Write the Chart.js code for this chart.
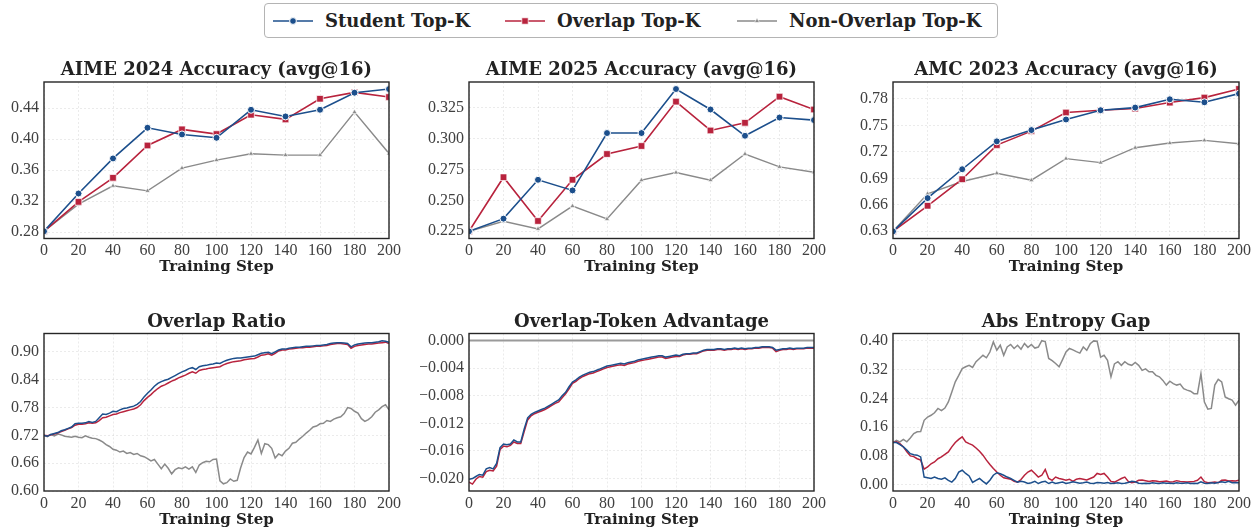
<!DOCTYPE html>
<html>
<head>
<meta charset="utf-8">
<title>Top-K distillation metrics</title>
<script src="https://cdn.jsdelivr.net/npm/chart.js@4.4.1/dist/chart.umd.min.js"></script>
<style>
  html, body { margin: 0; padding: 0; background: #fff; }
  body { width: 1256px; height: 529px; position: relative; overflow: hidden; }
  canvas.panel { position: absolute; }
  #legend {
    position: absolute; left: 264px; top: 3px; width: 732px; height: 33px;
    border: 1px solid #b4b4b4; border-radius: 4px; background: #fff;
    font-family: "DejaVu Serif", serif; font-weight: bold; font-size: 18px; color: #222;
  }
  #legend .item { position: absolute; top: 0; height: 33px; display: flex; align-items: center; white-space: nowrap; }
  #legend svg { margin-right: 12px; }
</style>
</head>
<body>
<div id="legend"></div>
<script>
// ---- series names & colours ----
const SERIES_NAMES = ['Student Top-K', 'Overlap Top-K', 'Non-Overlap Top-K'];
const SERIES_COLORS = ['#1c4f8c', '#b8233d', '#8a8a8a'];

// ---- evaluation checkpoints (top row) ----
const EVAL_STEPS = [0, 20, 40, 60, 80, 100, 120, 140, 160, 180, 200];

const AIME24_STUDENT    = [0.2812, 0.3299, 0.3751, 0.4146, 0.4060, 0.4017, 0.4378, 0.4292, 0.4378, 0.4598, 0.4645];
const AIME24_OVERLAP    = [0.2812, 0.3191, 0.3501, 0.3918, 0.4125, 0.4065, 0.4314, 0.4254, 0.4520, 0.4602, 0.4542];
const AIME24_NONOVERLAP = [0.2812, 0.3161, 0.3398, 0.3333, 0.3626, 0.3729, 0.3811, 0.3794, 0.3794, 0.4348, 0.3815];

const AIME25_STUDENT    = [0.2249, 0.2352, 0.2667, 0.2581, 0.3046, 0.3046, 0.3403, 0.3237, 0.3024, 0.3172, 0.3151];
const AIME25_OVERLAP    = [0.2249, 0.2688, 0.2333, 0.2667, 0.2876, 0.2941, 0.3301, 0.3067, 0.3129, 0.3341, 0.3237];
const AIME25_NONOVERLAP = [0.2249, 0.2331, 0.2269, 0.2454, 0.2349, 0.2664, 0.2726, 0.2664, 0.2876, 0.2772, 0.2728];

const AMC23_STUDENT     = [0.6299, 0.6676, 0.7003, 0.7319, 0.7447, 0.7567, 0.7672, 0.7702, 0.7796, 0.7762, 0.7860];
const AMC23_OVERLAP     = [0.6299, 0.6589, 0.6890, 0.7277, 0.7435, 0.7646, 0.7672, 0.7691, 0.7759, 0.7815, 0.7913];
const AMC23_NONOVERLAP  = [0.6299, 0.6725, 0.6864, 0.6958, 0.6879, 0.7123, 0.7078, 0.7247, 0.7300, 0.7330, 0.7292];

// ---- per-step training curves (bottom row), logged every 2 steps ----
const TRAIN_STEPS = Array.from({ length: 101 }, (_, i) => i * 2);

const RATIO_STUDENT = [
  0.720, 0.718, 0.722, 0.724, 0.726, 0.730, 0.732, 0.735, 0.738, 0.745,
  0.746, 0.746, 0.747, 0.750, 0.748, 0.750, 0.758, 0.766, 0.765, 0.768,
  0.772, 0.771, 0.775, 0.778, 0.779, 0.781, 0.783, 0.787, 0.793, 0.803,
  0.811, 0.818, 0.826, 0.832, 0.836, 0.839, 0.841, 0.845, 0.849, 0.853,
  0.857, 0.860, 0.864, 0.866, 0.862, 0.868, 0.870, 0.871, 0.873, 0.874,
  0.876, 0.875, 0.879, 0.882, 0.884, 0.886, 0.887, 0.887, 0.888, 0.889,
  0.890, 0.891, 0.894, 0.897, 0.898, 0.899, 0.896, 0.900, 0.904, 0.906,
  0.906, 0.908, 0.909, 0.910, 0.910, 0.911, 0.912, 0.912, 0.913, 0.914,
  0.914, 0.915, 0.916, 0.918, 0.919, 0.920, 0.920, 0.919, 0.918, 0.911,
  0.915, 0.917, 0.918, 0.919, 0.920, 0.920, 0.921, 0.922, 0.924, 0.923,
  0.921
];
const RATIO_OVERLAP = [
  0.720, 0.719, 0.721, 0.723, 0.725, 0.728, 0.731, 0.734, 0.737, 0.742,
  0.744, 0.744, 0.745, 0.747, 0.746, 0.747, 0.752, 0.758, 0.759, 0.762,
  0.765, 0.766, 0.769, 0.771, 0.773, 0.775, 0.777, 0.780, 0.786, 0.795,
  0.802, 0.808, 0.815, 0.821, 0.826, 0.829, 0.833, 0.837, 0.840, 0.844,
  0.847, 0.850, 0.854, 0.857, 0.854, 0.860, 0.862, 0.863, 0.865, 0.866,
  0.867, 0.868, 0.872, 0.875, 0.877, 0.879, 0.880, 0.881, 0.883, 0.884,
  0.885, 0.886, 0.889, 0.893, 0.894, 0.896, 0.893, 0.897, 0.902, 0.904,
  0.904, 0.906, 0.907, 0.908, 0.909, 0.909, 0.910, 0.910, 0.911, 0.912,
  0.912, 0.913, 0.914, 0.916, 0.917, 0.918, 0.918, 0.917, 0.916, 0.908,
  0.912, 0.914, 0.915, 0.916, 0.917, 0.917, 0.918, 0.919, 0.920, 0.921,
  0.918
];
const RATIO_NONOVERLAP = [
  0.720, 0.717, 0.722, 0.719, 0.723, 0.721, 0.718, 0.717, 0.716, 0.718,
  0.716, 0.715, 0.719, 0.716, 0.714, 0.713, 0.710, 0.706, 0.700, 0.696,
  0.690, 0.688, 0.684, 0.686, 0.681, 0.683, 0.679, 0.681, 0.676, 0.674,
  0.670, 0.665, 0.668, 0.658, 0.648, 0.658, 0.649, 0.637, 0.646, 0.650,
  0.648, 0.652, 0.647, 0.652, 0.640, 0.656, 0.661, 0.664, 0.663, 0.668,
  0.669, 0.622, 0.6155, 0.618, 0.626, 0.621, 0.623, 0.650, 0.672, 0.684,
  0.680, 0.694, 0.710, 0.681, 0.702, 0.700, 0.692, 0.671, 0.680, 0.676,
  0.686, 0.692, 0.703, 0.705, 0.712, 0.718, 0.725, 0.731, 0.738, 0.740,
  0.745, 0.746, 0.752, 0.750, 0.755, 0.758, 0.760, 0.767, 0.780, 0.778,
  0.772, 0.768, 0.756, 0.750, 0.754, 0.760, 0.770, 0.775, 0.782, 0.786,
  0.775
];

const ADV_STUDENT = [
  -0.0201, -0.0200, -0.0197, -0.0194, -0.0195, -0.0186, -0.0184, -0.0186, -0.0178, -0.0155,
  -0.0150, -0.0151, -0.0150, -0.0144, -0.0147, -0.0147, -0.0128, -0.0112, -0.0107, -0.0104,
  -0.0102, -0.0100, -0.0098, -0.0095, -0.0092, -0.0089, -0.0086, -0.0080, -0.0075, -0.0067,
  -0.0060, -0.0057, -0.0053, -0.0050, -0.0048, -0.0046, -0.0045, -0.0043, -0.0041, -0.0039,
  -0.0037, -0.0036, -0.0035, -0.0034, -0.0033, -0.0034, -0.0032, -0.0031, -0.0030, -0.0028,
  -0.0027, -0.0026, -0.0025, -0.0024, -0.0023, -0.0022, -0.0022, -0.0024, -0.0023, -0.0022,
  -0.0021, -0.0022, -0.0020, -0.0019, -0.0019, -0.0018, -0.0018, -0.0016, -0.0014, -0.0013,
  -0.0013, -0.0013, -0.0012, -0.0012, -0.0013, -0.0012, -0.0012, -0.0011, -0.0012, -0.0011,
  -0.0012, -0.0011, -0.0011, -0.0010, -0.0010, -0.0009, -0.0009, -0.0009, -0.0010, -0.0014,
  -0.0013, -0.0012, -0.0012, -0.0011, -0.0012, -0.0011, -0.0011, -0.0011, -0.0010, -0.0010,
  -0.0010
];
const ADV_OVERLAP = [
  -0.0205, -0.0208, -0.0201, -0.0197, -0.0198, -0.0190, -0.0188, -0.0189, -0.0182, -0.0158,
  -0.0153, -0.0154, -0.0152, -0.0147, -0.0149, -0.0149, -0.0132, -0.0115, -0.0109, -0.0106,
  -0.0104, -0.0102, -0.0100, -0.0097, -0.0094, -0.0091, -0.0089, -0.0083, -0.0077, -0.0070,
  -0.0062, -0.0059, -0.0055, -0.0052, -0.0050, -0.0048, -0.0047, -0.0045, -0.0043, -0.0041,
  -0.0039, -0.0038, -0.0037, -0.0036, -0.0035, -0.0036, -0.0034, -0.0033, -0.0032, -0.0030,
  -0.0029, -0.0028, -0.0027, -0.0026, -0.0025, -0.0024, -0.0024, -0.0026, -0.0025, -0.0024,
  -0.0023, -0.0023, -0.0021, -0.0020, -0.0020, -0.0019, -0.0019, -0.0017, -0.0015, -0.0014,
  -0.0014, -0.0014, -0.0013, -0.0013, -0.0014, -0.0013, -0.0013, -0.0012, -0.0013, -0.0012,
  -0.0013, -0.0012, -0.0012, -0.0011, -0.0011, -0.0010, -0.0010, -0.0010, -0.0011, -0.0016,
  -0.0014, -0.0013, -0.0013, -0.0012, -0.0013, -0.0012, -0.0012, -0.0012, -0.0011, -0.0011,
  -0.0011
];
const ADV_ZERO_LEVEL = 0;

const GAP_STUDENT = [
  0.117, 0.117, 0.111, 0.105, 0.096, 0.086, 0.083, 0.082, 0.077, 0.021,
  0.019, 0.017, 0.021, 0.017, 0.015, 0.019, 0.012, 0.007, 0.017, 0.035,
  0.040, 0.031, 0.024, 0.006, 0.012, 0.017, 0.009, 0.002, 0.012, 0.026,
  0.033, 0.030, 0.026, 0.021, 0.017, 0.012, 0.007, 0.009, 0.007, 0.003,
  0.005, 0.009, 0.003, 0.007, 0.009, 0.003, 0.007, 0.003, 0.005, 0.007,
  0.003, 0.005, 0.008, 0.006, 0.004, 0.005, 0.007, 0.004, 0.003, 0.006,
  0.005, 0.004, 0.006, 0.003, 0.004, 0.005, 0.003, 0.004, 0.006, 0.009,
  0.008, 0.004, 0.003, 0.004, 0.003, 0.005, 0.004, 0.003, 0.005, 0.004,
  0.004, 0.003, 0.005, 0.004, 0.004, 0.005, 0.003, 0.004, 0.003, 0.008,
  0.004, 0.003, 0.005, 0.004, 0.006, 0.008, 0.006, 0.009, 0.005, 0.006,
  0.005
];
const GAP_OVERLAP = [
  0.117, 0.119, 0.114, 0.105, 0.091, 0.080, 0.078, 0.072, 0.068, 0.043,
  0.049, 0.058, 0.063, 0.072, 0.077, 0.084, 0.091, 0.105, 0.117, 0.126,
  0.133, 0.119, 0.114, 0.110, 0.102, 0.093, 0.082, 0.068, 0.056, 0.045,
  0.035, 0.026, 0.019, 0.017, 0.015, 0.009, 0.007, 0.014, 0.026, 0.035,
  0.040, 0.031, 0.021, 0.026, 0.042, 0.017, 0.012, 0.021, 0.017, 0.015,
  0.012, 0.015, 0.009, 0.015, 0.017, 0.015, 0.013, 0.017, 0.021, 0.031,
  0.028, 0.031, 0.021, 0.009, 0.007, 0.012, 0.017, 0.021, 0.009, 0.005,
  0.007, 0.012, 0.013, 0.011, 0.009, 0.011, 0.010, 0.008, 0.009, 0.010,
  0.007, 0.008, 0.011, 0.009, 0.008, 0.007, 0.008, 0.009, 0.012, 0.021,
  0.008, 0.005, 0.006, 0.007, 0.005, 0.012, 0.013, 0.010, 0.011, 0.010,
  0.012
];
const GAP_NONOVERLAP = [
  0.117, 0.123, 0.119, 0.126, 0.119, 0.130, 0.142, 0.147, 0.148, 0.179,
  0.188, 0.193, 0.200, 0.212, 0.206, 0.213, 0.230, 0.258, 0.286, 0.304,
  0.323, 0.328, 0.332, 0.326, 0.342, 0.351, 0.360, 0.353, 0.369, 0.397,
  0.374, 0.388, 0.360, 0.383, 0.390, 0.379, 0.388, 0.377, 0.393, 0.382,
  0.390, 0.380, 0.383, 0.4005, 0.398, 0.351, 0.345, 0.337, 0.328, 0.348,
  0.369, 0.379, 0.375, 0.370, 0.366, 0.383, 0.374, 0.392, 0.400, 0.399,
  0.355, 0.360, 0.346, 0.300, 0.336, 0.342, 0.332, 0.342, 0.335, 0.332,
  0.340, 0.332, 0.318, 0.322, 0.314, 0.314, 0.304, 0.300, 0.290, 0.277,
  0.288, 0.281, 0.277, 0.280, 0.267, 0.263, 0.260, 0.253, 0.253, 0.309,
  0.230, 0.210, 0.212, 0.277, 0.293, 0.286, 0.244, 0.239, 0.235, 0.221,
  0.235
];

// ---- axis tick labels ----
const X_TICKS = [0, 20, 40, 60, 80, 100, 120, 140, 160, 180, 200];
const AIME24_TICKS = [0.28, 0.32, 0.36, 0.40, 0.44];
const AIME25_TICKS = [0.225, 0.250, 0.275, 0.300, 0.325];
const AMC23_TICKS  = [0.63, 0.66, 0.69, 0.72, 0.75, 0.78];
const RATIO_TICKS  = [0.60, 0.66, 0.72, 0.78, 0.84, 0.90];
const ADV_TICKS    = [-0.020, -0.016, -0.012, -0.008, -0.004, 0.000];
const GAP_TICKS    = [0.00, 0.08, 0.16, 0.24, 0.32, 0.40];

// ---- shared styling ----
const TICK_FONT = { family: '"Liberation Serif", serif', size: 16 };
const TICK_COLOR = '#404040';
const HEAD_FONT = 'bold 18px "DejaVu Serif", serif';
const MARKERS = [
  { style: 'circle',   radius: 3.5, edge: '#ffffff',               edgeW: 1 },
  { style: 'rect',     radius: 4.7, edge: 'rgba(255,255,255,0.7)', edgeW: 1 },
  { style: 'triangle', radius: 2.9, edge: 'rgba(255,255,255,0.8)', edgeW: 0.8 }
];

function points(xs, ys) { return ys.map((y, i) => ({ x: xs[i], y })); }

function evalSeries(values) {
  return values.map((vals, k) => ({
    label: SERIES_NAMES[k],
    data: points(EVAL_STEPS, vals),
    borderColor: SERIES_COLORS[k],
    backgroundColor: SERIES_COLORS[k],
    borderWidth: k === 2 ? 1.4 : 1.6,
    pointStyle: MARKERS[k].style,
    pointRadius: MARKERS[k].radius,
    pointBorderColor: MARKERS[k].edge,
    pointBorderWidth: MARKERS[k].edgeW,
    pointBackgroundColor: SERIES_COLORS[k],
    tension: 0,
    clip: 0,
    order: k
  }));
}

function trainSeries(values, idx) {
  return values.map((vals, j) => {
    const k = idx[j];
    return {
      label: SERIES_NAMES[k],
      data: points(TRAIN_STEPS, vals),
      borderColor: SERIES_COLORS[k],
      borderWidth: 1.5,
      pointRadius: 0,
      tension: 0,
      clip: 0,
      order: k
    };
  });
}

function fmt(v, dec) {
  return v.toFixed(dec).replace('-', '\u2212');
}

// frame around the plotting area + panel heading
function panelDecor(title, baseline, boxTop) {
  return {
    id: 'panelDecor',
    afterDatasetsDraw(chart) {
      const { ctx, chartArea: a } = chart;
      ctx.save();
      ctx.strokeStyle = '#262626';
      ctx.lineWidth = 1.4;
      ctx.strokeRect(a.left, a.top, a.right - a.left, a.bottom - a.top);
      ctx.restore();
    },
    afterDraw(chart) {
      const { ctx, chartArea: a } = chart;
      ctx.save();
      ctx.font = HEAD_FONT;
      ctx.fillStyle = '#222';
      ctx.textAlign = 'center';
      ctx.textBaseline = 'alphabetic';
      ctx.fillText(title, (a.left + a.right) / 2, baseline - boxTop);
      ctx.restore();
    }
  };
}

function buildPanel(p) {
  const cv = document.createElement('canvas');
  cv.className = 'panel';
  cv.width = p.box.w; cv.height = p.box.h;
  cv.style.left = p.box.x + 'px';
  cv.style.top = p.box.y + 'px';
  document.body.appendChild(cv);

  const yAxisW = p.area.l - p.box.x;
  const padR = p.box.x + p.box.w - p.area.r;
  const padT = p.area.t - p.box.y;
  const xAxisH = p.box.y + p.box.h - p.area.b;
  const grid = { color: 'rgba(0,0,0,0.10)', lineWidth: 0.8, drawTicks: false };

  new Chart(cv, {
    type: 'line',
    data: { datasets: p.datasets },
    options: {
      responsive: false,
      animation: false,
      devicePixelRatio: 1,
      layout: { padding: { left: 0, right: padR, top: padT, bottom: 0 } },
      plugins: { legend: { display: false }, tooltip: { enabled: false }, title: { display: false } },
      scales: {
        x: {
          type: 'linear', min: 0, max: 200,
          afterFit: s => { s.height = xAxisH; },
          afterBuildTicks: s => { s.ticks = X_TICKS.map(v => ({ value: v })); },
          grid: grid,
          border: { display: false, dash: [2, 2] },
          ticks: { font: TICK_FONT, color: TICK_COLOR, padding: 3, maxRotation: 0, autoSkip: false,
                   callback: v => String(v) },
          title: { display: true, text: 'Training Step', color: '#222',
                   font: { family: '"DejaVu Serif", serif', weight: 'bold', size: 15 },
                   padding: { top: 0, bottom: p.xTitlePad } }
        },
        y: {
          type: 'linear', min: p.yMin, max: p.yMax,
          afterFit: s => { s.width = yAxisW; },
          afterBuildTicks: s => { s.ticks = p.yTicks.map(v => ({ value: v })); },
          grid: grid,
          border: { display: false, dash: [2, 2] },
          ticks: { font: TICK_FONT, color: TICK_COLOR, padding: 5, callback: v => fmt(v, p.dec) }
        }
      }
    },
    plugins: [panelDecor(p.title, p.titleBase, p.box.y)]
  });
}

// ---- legend ----
function legendIcon(k) {
  const c = SERIES_COLORS[k];
  let mark = '';
  if (k === 0) mark = `<circle cx="20" cy="8" r="3.4" fill="${c}" stroke="#fff" stroke-width="1"/>`;
  if (k === 1) mark = `<rect x="16.8" y="4.8" width="6.4" height="6.4" fill="${c}" stroke="rgba(255,255,255,0.7)" stroke-width="1"/>`;
  if (k === 2) mark = `<polygon points="20,5.1 22.5,9.5 17.5,9.5" fill="${c}" stroke="rgba(255,255,255,0.8)" stroke-width="0.8"/>`;
  return `<svg width="40" height="16" viewBox="0 0 40 16"><line x1="0" y1="8" x2="40" y2="8" stroke="${c}" stroke-width="1.6"/>${mark}</svg>`;
}
const legendEl = document.getElementById('legend');
const LEGEND_OFFSETS = [8, 240, 472];
SERIES_NAMES.forEach((name, k) => {
  const d = document.createElement('div');
  d.className = 'item';
  d.style.left = LEGEND_OFFSETS[k] + 'px';
  d.innerHTML = legendIcon(k) + '<span>' + name + '</span>';
  legendEl.appendChild(d);
});

// ---- panels ----
const TOP_BOX_Y = 50, TOP_BOX_H = 230, BOT_BOX_Y = 300, BOT_BOX_H = 229;
const TOP_AREA = { t: 82, b: 238.5 }, BOT_AREA = { t: 333.5, b: 491 };

buildPanel({
  title: 'AIME 2024 Accuracy (avg@16)', titleBase: 75,
  box: { x: 0, y: TOP_BOX_Y, w: 410, h: TOP_BOX_H },
  area: { l: 44, r: 389, t: TOP_AREA.t, b: TOP_AREA.b },
  yMin: 0.2719, yMax: 0.4736, yTicks: AIME24_TICKS, dec: 2, xTitlePad: 4,
  datasets: evalSeries([AIME24_STUDENT, AIME24_OVERLAP, AIME24_NONOVERLAP])
});
buildPanel({
  title: 'AIME 2025 Accuracy (avg@16)', titleBase: 75,
  box: { x: 420, y: TOP_BOX_Y, w: 415, h: TOP_BOX_H },
  area: { l: 469, r: 814, t: TOP_AREA.t, b: TOP_AREA.b },
  yMin: 0.2191, yMax: 0.3460, yTicks: AIME25_TICKS, dec: 3, xTitlePad: 4,
  datasets: evalSeries([AIME25_STUDENT, AIME25_OVERLAP, AIME25_NONOVERLAP])
});
buildPanel({
  title: 'AMC 2023 Accuracy (avg@16)', titleBase: 75,
  box: { x: 840, y: TOP_BOX_Y, w: 416, h: TOP_BOX_H },
  area: { l: 893, r: 1239, t: TOP_AREA.t, b: TOP_AREA.b },
  yMin: 0.6218, yMax: 0.7992, yTicks: AMC23_TICKS, dec: 2, xTitlePad: 4,
  datasets: evalSeries([AMC23_STUDENT, AMC23_OVERLAP, AMC23_NONOVERLAP])
});
buildPanel({
  title: 'Overlap Ratio', titleBase: 327,
  box: { x: 0, y: BOT_BOX_Y, w: 410, h: BOT_BOX_H },
  area: { l: 44, r: 389, t: BOT_AREA.t, b: BOT_AREA.b },
  yMin: 0.600, yMax: 0.9397, yTicks: RATIO_TICKS, dec: 2, xTitlePad: 0,
  datasets: trainSeries([RATIO_STUDENT, RATIO_OVERLAP, RATIO_NONOVERLAP], [0, 1, 2])
});
buildPanel({
  title: 'Overlap-Token Advantage', titleBase: 327,
  box: { x: 420, y: BOT_BOX_Y, w: 415, h: BOT_BOX_H },
  area: { l: 469, r: 814, t: BOT_AREA.t, b: BOT_AREA.b },
  yMin: -0.0218, yMax: 0.00102, yTicks: ADV_TICKS, dec: 3, xTitlePad: 0,
  datasets: trainSeries([ADV_STUDENT, ADV_OVERLAP], [0, 1]).concat([{
    label: 'zero',
    data: points([X_TICKS[0], X_TICKS[X_TICKS.length - 1]], [ADV_ZERO_LEVEL, ADV_ZERO_LEVEL]),
    borderColor: '#9a9a9a', borderWidth: 2, pointRadius: 0, clip: 0, order: 5
  }])
});
buildPanel({
  title: 'Abs Entropy Gap', titleBase: 327,
  box: { x: 840, y: BOT_BOX_Y, w: 416, h: BOT_BOX_H },
  area: { l: 893, r: 1239, t: BOT_AREA.t, b: BOT_AREA.b },
  yMin: -0.0178, yMax: 0.4206, yTicks: GAP_TICKS, dec: 2, xTitlePad: 0,
  datasets: trainSeries([GAP_STUDENT, GAP_OVERLAP, GAP_NONOVERLAP], [0, 1, 2])
});
</script>
</body>
</html>
